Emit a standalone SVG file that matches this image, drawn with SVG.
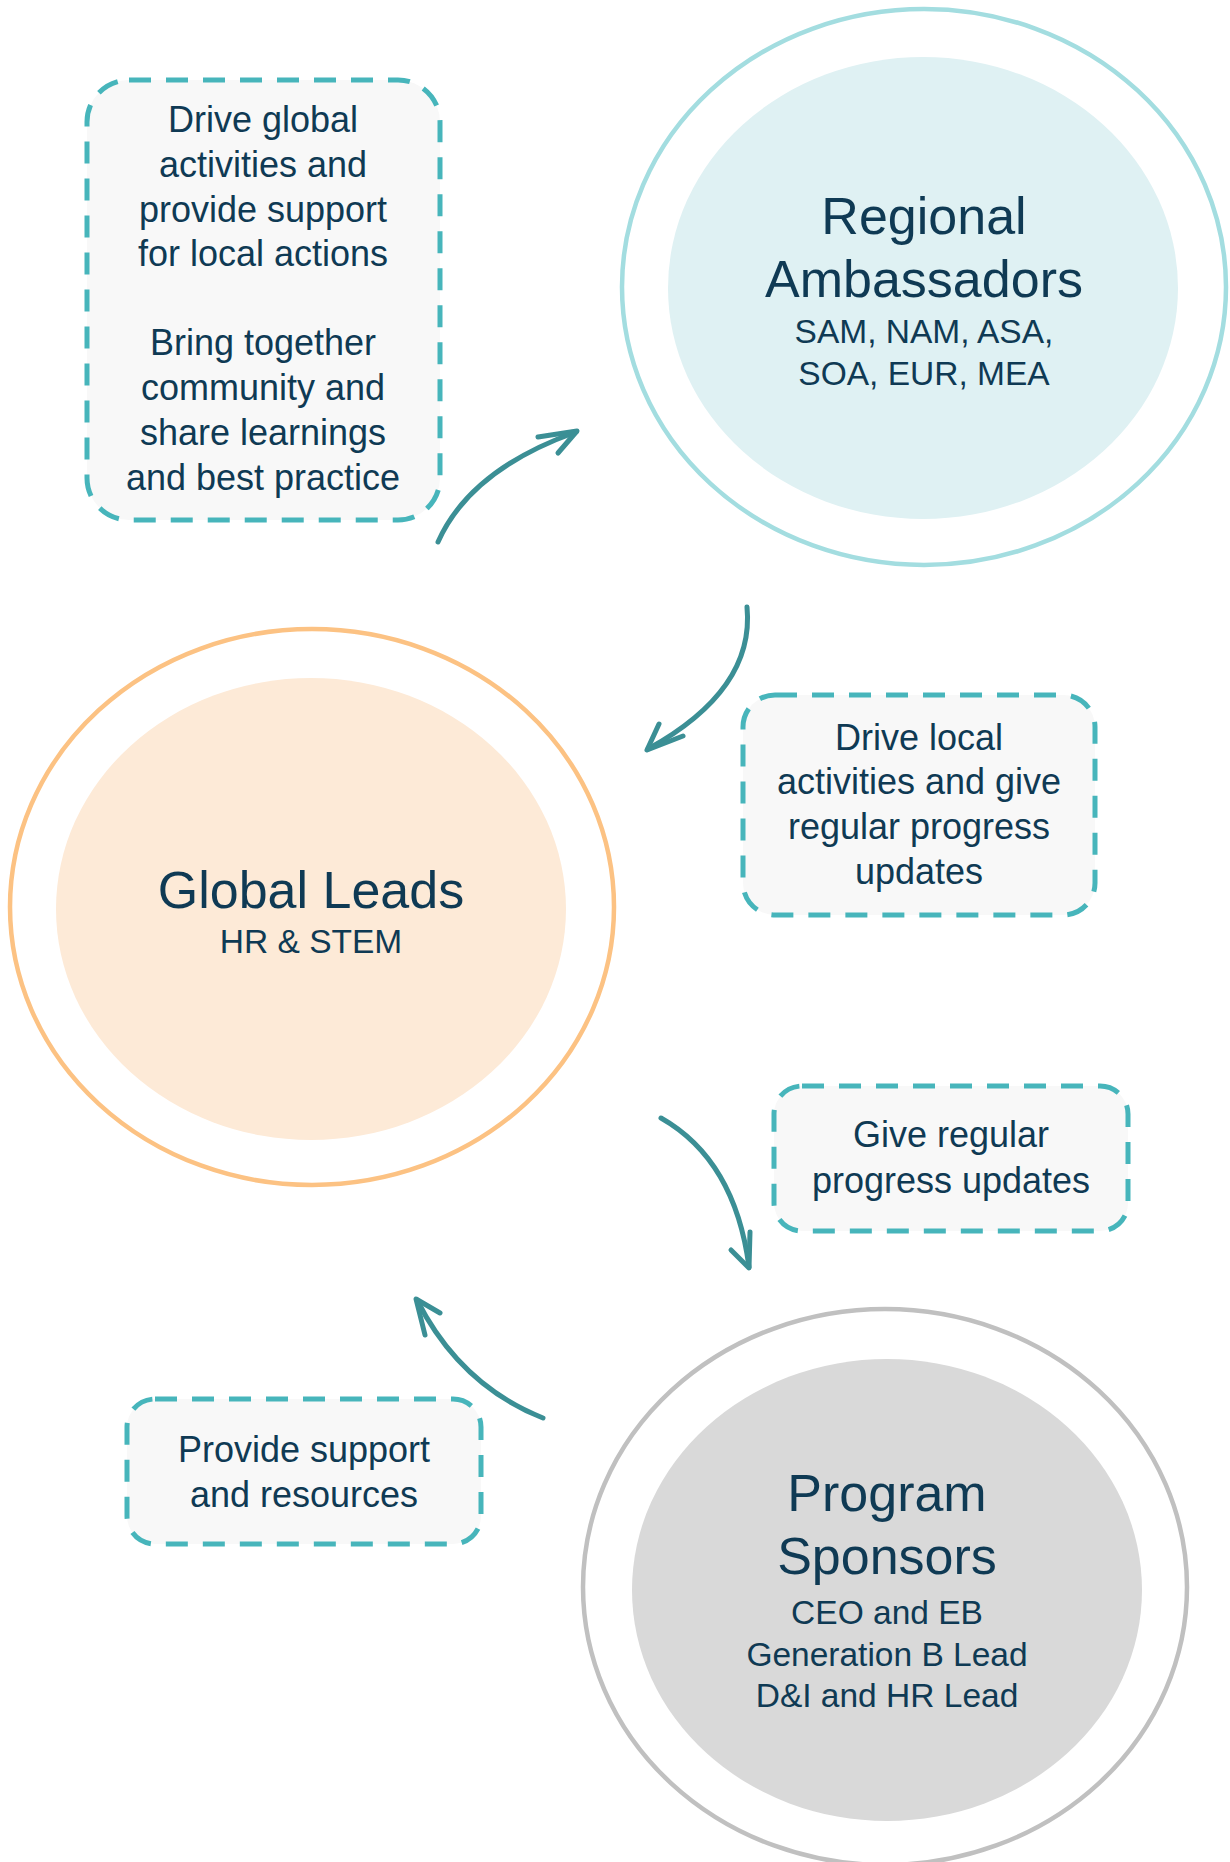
<svg xmlns="http://www.w3.org/2000/svg" width="1230" height="1862" viewBox="0 0 1230 1862">
<style>
.t{font-family:"Liberation Sans",Arial,sans-serif;fill:#0f3a54;text-anchor:middle}
.title{font-size:52px}
.sub{font-size:33.5px}
.note{font-size:36px}
.box{fill:#f8f8f8;stroke:#47b5bb;stroke-width:5;stroke-dasharray:22 15}
.arrow{fill:none;stroke:#3b8f95;stroke-width:5;stroke-linecap:round;stroke-linejoin:round}
</style>
<rect width="1230" height="1862" fill="#ffffff"/>
<g id="regional-ambassadors">
<ellipse cx="924" cy="287" rx="302" ry="278" fill="#ffffff" stroke="#a3dde0" stroke-width="4.5"/>
<ellipse cx="923" cy="288" rx="255" ry="231" fill="#dff1f3"/>
<text class="t title" x="924" y="234">Regional</text>
<text class="t title" x="924" y="297">Ambassadors</text>
<text class="t sub" x="924" y="343">SAM, NAM, ASA,</text>
<text class="t sub" x="924" y="385">SOA, EUR, MEA</text>
</g>
<g id="global-leads">
<ellipse cx="312" cy="907" rx="302" ry="278" fill="#ffffff" stroke="#fcc283" stroke-width="4.5"/>
<ellipse cx="311" cy="909" rx="255" ry="231" fill="#fdead7"/>
<text class="t title" x="311" y="908">Global Leads</text>
<text class="t sub" x="311" y="953">HR &amp; STEM</text>
</g>
<g id="program-sponsors">
<ellipse cx="885" cy="1587" rx="302" ry="278" fill="#ffffff" stroke="#c0c0c0" stroke-width="4.5"/>
<ellipse cx="887" cy="1590" rx="255" ry="231" fill="#d9d9d9"/>
<text class="t title" x="887" y="1511">Program</text>
<text class="t title" x="887" y="1574">Sponsors</text>
<text class="t sub" x="887" y="1624">CEO and EB</text>
<text class="t sub" x="887" y="1666">Generation B Lead</text>
<text class="t sub" x="887" y="1707">D&amp;I and HR Lead</text>
</g>
<g id="note-global-activities">
<rect class="box" x="87" y="80" width="353" height="440" rx="42"/>
<text class="t note" x="263" y="132">Drive global</text>
<text class="t note" x="263" y="177">activities and</text>
<text class="t note" x="263" y="222">provide support</text>
<text class="t note" x="263" y="266">for local actions</text>
<text class="t note" x="263" y="355">Bring together</text>
<text class="t note" x="263" y="400">community and</text>
<text class="t note" x="263" y="445">share learnings</text>
<text class="t note" x="263" y="490">and best practice</text>
</g>
<g id="note-local-activities">
<rect class="box" x="743" y="695" width="352" height="220" rx="32"/>
<text class="t note" x="919" y="750">Drive local</text>
<text class="t note" x="919" y="794">activities and give</text>
<text class="t note" x="919" y="839">regular progress</text>
<text class="t note" x="919" y="884">updates</text>
</g>
<g id="note-progress-updates">
<rect class="box" x="774" y="1086" width="354" height="145" rx="28"/>
<text class="t note" x="951" y="1147">Give regular</text>
<text class="t note" x="951" y="1193">progress updates</text>
</g>
<g id="note-support">
<rect class="box" x="127" y="1399" width="354" height="145" rx="28"/>
<text class="t note" x="304" y="1462">Provide support</text>
<text class="t note" x="304" y="1507">and resources</text>
</g>
<g id="connectors">
<path class="arrow" d="M438,542 Q470,470 576,432"/>
<path class="arrow" d="M538,437 L577,431 L558,453"/>
<path class="arrow" d="M747,607 Q755,690 648,749"/>
<path class="arrow" d="M659,724 L647,750 L683,736"/>
<path class="arrow" d="M661,1118 Q735,1160 749,1267"/>
<path class="arrow" d="M750,1232 L749,1268 L731,1250"/>
<path class="arrow" d="M543,1418 Q460,1385 417,1300"/>
<path class="arrow" d="M440,1313 L416,1299 L425,1335"/>
</g>
</svg>
